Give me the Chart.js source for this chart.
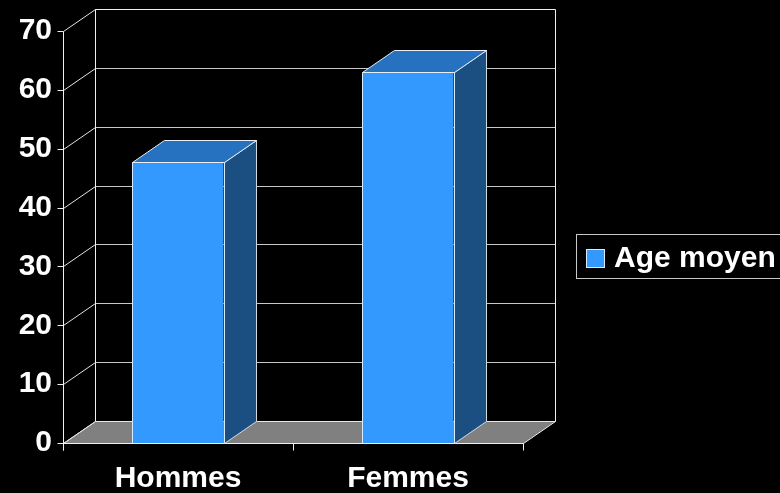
<!DOCTYPE html>
<html>
<head>
<meta charset="utf-8">
<title>Age moyen</title>
<script src="https://cdn.jsdelivr.net/npm/chart.js@4.4.0/dist/chart.umd.min.js"></script>
<style>
    html, body { margin: 0; padding: 0; background: #000; }
    #wrap { width: 780px; height: 493px; }
</style>
</head>
<body>
<div id="wrap"><canvas id="ageChart" width="780" height="493"></canvas></div>
<script>
// Chart data
const categories = ['Hommes', 'Femmes'];
const seriesLabel = 'Age moyen';
const ageMoyen = [47.7, 63];
const yMin = 0;
const yMax = 70;
const yStep = 10;

// Look of the 3D box
const FONT = '"Liberation Sans", Arial, sans-serif';
const FONT_SIZE = 30;
const DEPTH_X = 32;
const DEPTH_Y = -22;
const BAR_FRONT = '#3399FF';
const BAR_TOP = '#2672C0';
const BAR_SIDE = '#1B4F82';
const FLOOR = '#808080';

function line(ctx, x1, y1, x2, y2, color) {
    ctx.strokeStyle = color;
    ctx.beginPath();
    ctx.moveTo(x1, y1);
    ctx.lineTo(x2, y2);
    ctx.stroke();
}

function poly(ctx, pts, fill, stroke) {
    ctx.beginPath();
    ctx.moveTo(pts[0][0], pts[0][1]);
    for (let i = 1; i < pts.length; i++) ctx.lineTo(pts[i][0], pts[i][1]);
    ctx.closePath();
    ctx.fillStyle = fill;
    ctx.fill();
    if (stroke) {
        ctx.strokeStyle = stroke;
        ctx.stroke();
    }
}

// Draws walls, floor, gridlines, bar tops/sides and the legend box
const box3d = {
    id: 'box3d',
    beforeDraw(chart) {
        const ctx = chart.ctx;
        ctx.save();
        ctx.fillStyle = '#000';
        ctx.fillRect(0, 0, chart.width, chart.height);
        ctx.restore();
    },
    beforeDatasetsDraw(chart) {
        const ctx = chart.ctx;
        const area = chart.chartArea;
        const yScale = chart.scales.y;
        const xScale = chart.scales.x;
        const L = Math.round(area.left) + 0.5;
        const R = Math.round(area.right) + 0.5;
        const B = Math.round(yScale.getPixelForValue(yMin)) + 0.5;
        const T = Math.round(yScale.getPixelForValue(yMax)) + 0.5;

        ctx.save();
        ctx.lineWidth = 1;

        // floor
        poly(ctx, [[L, B], [R, B], [R + DEPTH_X, B + DEPTH_Y], [L + DEPTH_X, B + DEPTH_Y]], FLOOR, '#E6E6E6');

        // back wall gridlines and left wall diagonals
        for (let v = yMin; v <= yMax; v += yStep) {
            const y = Math.round(yScale.getPixelForValue(v)) + 0.5;
            if (v > yMin) {
                line(ctx, L + DEPTH_X, y + DEPTH_Y, R + DEPTH_X, y + DEPTH_Y, v === yMax ? '#F0F0F0' : '#C8C8C8');
            }
            line(ctx, L, y, L + DEPTH_X, y + DEPTH_Y, '#E6E6E6');
            line(ctx, L - 6, y, L, y, '#F0F0F0');
        }

        // wall edges
        line(ctx, L + DEPTH_X, T + DEPTH_Y, L + DEPTH_X, B + DEPTH_Y, '#F0F0F0');
        line(ctx, R + DEPTH_X, T + DEPTH_Y, R + DEPTH_X, B + DEPTH_Y, '#F0F0F0');

        // front axes
        line(ctx, L, T, L, B + 7, '#F0F0F0');
        line(ctx, L, B, R, B, '#F0F0F0');

        // category boundary ticks
        const half = (xScale.getPixelForTick(1) - xScale.getPixelForTick(0)) / 2;
        for (let i = 0; i <= categories.length; i++) {
            const x = Math.round(xScale.getPixelForTick(0) - half + i * half * 2) + 0.5;
            line(ctx, x, B, x, B + 7, '#F0F0F0');
        }
        ctx.restore();
    },
    afterDatasetsDraw(chart) {
        const ctx = chart.ctx;
        const meta = chart.getDatasetMeta(0);
        ctx.save();
        ctx.lineWidth = 1;
        meta.data.forEach(bar => {
            const p = bar.getProps(['x', 'y', 'width', 'base'], true);
            const x1 = Math.round(p.x - p.width / 2) + 0.5;
            const x2 = Math.round(p.x + p.width / 2) + 0.5;
            const top = Math.round(p.y) + 0.5;
            const base = Math.round(p.base) + 0.5;
            // right side face
            poly(ctx, [[x2, top], [x2 + DEPTH_X, top + DEPTH_Y], [x2 + DEPTH_X, base + DEPTH_Y], [x2, base]], BAR_SIDE, '#D0D8E0');
            // top face
            poly(ctx, [[x1, top], [x1 + DEPTH_X, top + DEPTH_Y], [x2 + DEPTH_X, top + DEPTH_Y], [x2, top]], BAR_TOP, '#E8EEF6');
            line(ctx, x1, top, x1, base, '#D8ECFF');
            line(ctx, x2, top, x2, base, '#D8ECFF');
        });
        ctx.restore();
    },
    afterDraw(chart) {
        const ctx = chart.ctx;
        const ds = chart.data.datasets[0];
        ctx.save();
        ctx.lineWidth = 1;
        ctx.strokeStyle = '#C8C8C8';
        ctx.strokeRect(576.5, 234.5, 220, 44);
        ctx.fillStyle = ds.backgroundColor;
        ctx.fillRect(586, 249, 19, 19);
        ctx.strokeStyle = '#D8ECFF';
        ctx.strokeRect(586.5, 249.5, 18, 18);
        ctx.fillStyle = '#FFFFFF';
        ctx.font = 'bold ' + FONT_SIZE + 'px ' + FONT;
        ctx.textBaseline = 'middle';
        ctx.textAlign = 'left';
        ctx.fillText(ds.label, 614, 259);
        ctx.restore();
    }
};

const ageChart = new Chart(document.getElementById('ageChart'), {
    type: 'bar',
    data: {
        labels: categories,
        datasets: [{
            label: seriesLabel,
            data: ageMoyen,
            backgroundColor: BAR_FRONT,
            borderColor: '#D8ECFF',
            borderWidth: 0,
            categoryPercentage: 1,
            barPercentage: 0.396
        }]
    },
    options: {
        responsive: false,
        animation: false,
        layout: { padding: { top: 31, right: 257, left: 0, bottom: 0 } },
        plugins: {
            legend: { display: false },
            tooltip: { enabled: false }
        },
        scales: {
            x: {
                grid: { display: false },
                border: { display: false },
                ticks: {
                    color: '#FFFFFF',
                    font: { family: FONT, size: FONT_SIZE, weight: 'bold' },
                    padding: 10,
                    maxRotation: 0
                },
                afterFit: s => { s.height = 50; }
            },
            y: {
                min: yMin,
                max: yMax,
                grid: { display: false },
                border: { display: false },
                ticks: {
                    stepSize: yStep,
                    color: '#FFFFFF',
                    font: { family: FONT, size: FONT_SIZE, weight: 'bold' },
                    padding: 3
                },
                afterFit: s => { s.width = 63; }
            }
        }
    },
    plugins: [box3d]
});
</script>
</body>
</html>
